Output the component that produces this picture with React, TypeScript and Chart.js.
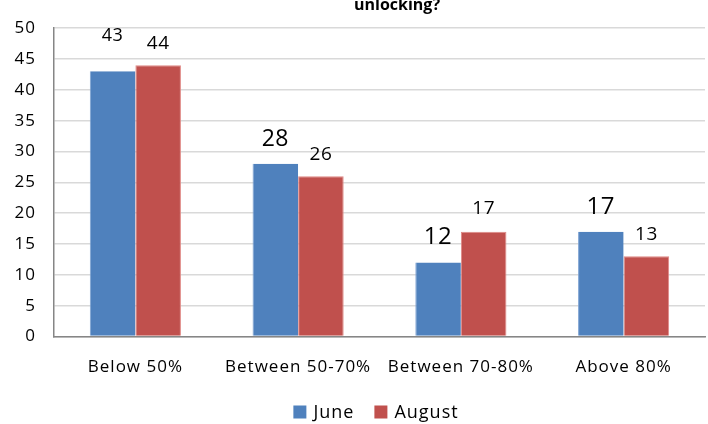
import React, { useEffect, useRef } from "react";
import { Chart, registerables } from "chart.js";

Chart.register(...registerables);

const categories = ["Below 50%", "Between 50-70%", "Between 70-80%", "Above 80%"];
const juneValues = [43, 28, 12, 17];
const augustValues = [44, 26, 17, 13];
const seriesNames = ["June", "August"];
const seriesColors = ["#4f81bd", "#c0504d"];
const yTicksMax = 50;
const yTicksStep = 5;
const titleText = "unlocking?";

// style-only arrays for the value labels
const juneLabelFontSizes = [18, 23, 24, 24];
const augustLabelFontSizes = [19, 19, 19, 19];
const juneLabelLift = [35, 24, 25, 25];
const augustLabelLift = [22, 22, 23, 22];

const FONT = "'Open Sans', 'DejaVu Sans', sans-serif";

const spacingPlugin = {
  id: "spacing",
  beforeDraw(chart: any) {
    (chart.ctx as any).letterSpacing = "1px";
  },
};

const valueLabelPlugin = {
  id: "valueLabels",
  afterDatasetsDraw(chart: any) {
    const ctx = chart.ctx;
    const sizes = [juneLabelFontSizes, augustLabelFontSizes];
    const lifts = [juneLabelLift, augustLabelLift];
    ctx.save();
    ctx.letterSpacing = "0.5px";
    ctx.fillStyle = "#000";
    ctx.textAlign = "center";
    ctx.textBaseline = "middle";
    chart.data.datasets.forEach((ds: any, di: number) => {
      const meta = chart.getDatasetMeta(di);
      meta.data.forEach((el: any, i: number) => {
        ctx.font = `${sizes[di][i]}px ${FONT}`;
        ctx.fillText(String(ds.data[i]), el.x, el.y - lifts[di][i]);
      });
    });
    ctx.restore();
  },
};

const titleAndLegendPlugin = {
  id: "titleLegend",
  afterDraw(chart: any) {
    const ctx = chart.ctx;
    ctx.save();
    ctx.letterSpacing = "0px";
    ctx.fillStyle = "#000";
    ctx.textAlign = "center";
    ctx.textBaseline = "alphabetic";
    ctx.font = `bold 16px ${FONT}`;
    ctx.fillText(titleText, 397, 10);

    // legend
    ctx.letterSpacing = "1px";
    ctx.font = `18px ${FONT}`;
    ctx.textAlign = "left";
    ctx.textBaseline = "middle";
    const box = 13;
    const gap = 7;
    const itemGap = 20;
    const widths = seriesNames.map((n) => ctx.measureText(n).width);
    const total = widths.reduce((a, w) => a + box + gap + w, 0) + itemGap * (seriesNames.length - 1);
    let x = 376 - total / 2;
    const cy = 412;
    seriesNames.forEach((n, i) => {
      ctx.fillStyle = seriesColors[i];
      ctx.fillRect(x, cy - box / 2, box, box);
      ctx.fillStyle = "#000";
      ctx.fillText(n, x + box + gap, cy + 1);
      x += box + gap + widths[i] + itemGap;
    });
    ctx.restore();
  },
};

export default function App() {
  const ref = useRef<HTMLCanvasElement>(null);
  useEffect(() => {
    if (!ref.current) return;
    const chart = new Chart(ref.current, {
      type: "bar",
      data: {
        labels: categories,
        datasets: [
          {
            label: seriesNames[0],
            data: juneValues,
            backgroundColor: seriesColors[0],
            borderColor: "#7ea3d3",
            borderWidth: { left: 1, right: 0, top: 0, bottom: 0 },
            categoryPercentage: 0.56,
            barPercentage: 1,
          },
          {
            label: seriesNames[1],
            data: augustValues,
            backgroundColor: seriesColors[1],
            borderColor: "#e08986",
            borderWidth: { left: 1, right: 1, top: 1, bottom: 0 },
            categoryPercentage: 0.56,
            barPercentage: 1,
          },
        ],
      },
      plugins: [spacingPlugin, valueLabelPlugin, titleAndLegendPlugin],
      options: {
        responsive: false,
        animation: false,
        layout: { padding: { top: 16.5, right: 3, left: 0, bottom: 32.5 } },
        plugins: {
          title: { display: false },
          tooltip: { enabled: false },
          legend: { display: false },
        },
        scales: {
          x: {
            grid: { display: false, drawTicks: false },
            border: { display: true, color: "#868686", width: 1.5 },
            ticks: {
              color: "#000",
              padding: 20,
              font: { family: FONT, size: 17 },
              maxRotation: 0,
              autoSkip: false,
            },
            afterFit(scale: any) {
              scale.height = 55;
            },
          },
          y: {
            min: 0,
            max: yTicksMax,
            grid: { color: "#d9d9d9", lineWidth: 1.5, drawTicks: false },
            border: { display: true, color: "#868686", width: 1.5 },
            ticks: {
              stepSize: yTicksStep,
              color: "#000",
              padding: 18,
              font: { family: FONT, size: 17 },
            },
            afterFit(scale: any) {
              scale.width = 54;
            },
          },
        },
      },
    });
    return () => chart.destroy();
  }, []);
  return (
    <canvas
      ref={ref}
      width={708}
      height={424}
      style={{ position: "absolute", left: 0, top: 0, display: "block" }}
    />
  );
}
